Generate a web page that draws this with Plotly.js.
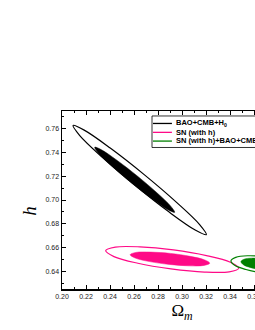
<!DOCTYPE html>
<html><head><meta charset="utf-8">
<script src="https://cdn.plot.ly/plotly-3.0.1.min.js"></script>
<style>
html,body{margin:0;padding:0;width:255px;height:330px;overflow:hidden;background:#fff}
#chart{width:322px;height:330px}
</style>
</head><body><div id="chart"></div>
<script>
// Series names / colours
const seriesNames = ['BAO+CMB+H<sub>0</sub>', 'SN (with h)', 'SN (with h)+BAO+CMB+H<sub>0</sub>'];
const seriesColors = ['#000000', '#ff0a87', '#008000'];

// Axis ticks (labels beyond 0.36 fall outside the visible window)
const xTickVals = [0.20, 0.22, 0.24, 0.26, 0.28, 0.30, 0.32, 0.34, 0.36];
const yTickVals = [0.64, 0.66, 0.68, 0.70, 0.72, 0.74, 0.76];

// BAO+CMB+H0 contours (outer = 2 sigma line, inner = 1 sigma filled)
const baoOuterX = [0.2611, 0.2338, 0.2148, 0.2092, 0.2185, 0.2402, 0.2685, 0.2957, 0.3147, 0.3203, 0.3110, 0.2893];
const baoOuterY = [0.7122, 0.7358, 0.7543, 0.7628, 0.7589, 0.7438, 0.7214, 0.6978, 0.6793, 0.6708, 0.6747, 0.6898];
const baoInnerX = [0.2582, 0.2419, 0.2305, 0.2273, 0.2329, 0.2460, 0.2630, 0.2793, 0.2906, 0.2939, 0.2883, 0.2752];
const baoInnerY = [0.7141, 0.7282, 0.7393, 0.7445, 0.7423, 0.7333, 0.7200, 0.7059, 0.6948, 0.6896, 0.6918, 0.7008];

// SN (with h) contours
const snOuterX = [0.2908, 0.2632, 0.2433, 0.2364, 0.2444, 0.2650, 0.2929, 0.3204, 0.3403, 0.3473, 0.3393, 0.3187];
const snOuterY = [0.6420, 0.6467, 0.6523, 0.6573, 0.6603, 0.6605, 0.6579, 0.6531, 0.6475, 0.6425, 0.6395, 0.6393];
const snInnerX = [0.2895, 0.2730, 0.2610, 0.2568, 0.2615, 0.2738, 0.2904, 0.3069, 0.3189, 0.3231, 0.3184, 0.3061];
const snInnerY = [0.6457, 0.6481, 0.6511, 0.6539, 0.6558, 0.6561, 0.6550, 0.6525, 0.6495, 0.6468, 0.6449, 0.6445];

// SN (with h)+BAO+CMB+H0 contours
const combOuterX = [0.3664, 0.3533, 0.3439, 0.3408, 0.3448, 0.3547, 0.3681, 0.3812, 0.3906, 0.3937, 0.3898, 0.3798];
const combOuterY = [0.6388, 0.6414, 0.6450, 0.6488, 0.6517, 0.6530, 0.6522, 0.6496, 0.6459, 0.6421, 0.6392, 0.6380];
const combInnerX = [0.3659, 0.3572, 0.3511, 0.3491, 0.3517, 0.3582, 0.3670, 0.3756, 0.3817, 0.3838, 0.3812, 0.3746];
const combInnerY = [0.6413, 0.6430, 0.6455, 0.6481, 0.6501, 0.6510, 0.6505, 0.6488, 0.6463, 0.6437, 0.6417, 0.6408];

const groups = [
  [baoOuterX, baoOuterY, baoInnerX, baoInnerY],
  [snOuterX, snOuterY, snInnerX, snInnerY],
  [combOuterX, combOuterY, combInnerX, combInnerY]
];
const close = a => a.concat([a[0]]);

const traces = [];
groups.forEach((g, i) => {
  traces.push({
    x: close(g[0]), y: close(g[1]), mode: 'lines', name: seriesNames[i],
    line: {color: seriesColors[i], width: 1.2, shape: 'spline', smoothing: 1},
    hoverinfo: 'skip', showlegend: false
  });
  traces.push({
    x: close(g[2]), y: close(g[3]), mode: 'lines', name: seriesNames[i] + ' 1σ',
    fill: 'toself', fillcolor: seriesColors[i],
    line: {color: seriesColors[i], width: 0.5, shape: 'spline', smoothing: 1},
    hoverinfo: 'skip', showlegend: false
  });
});

// Legend drawn compactly (box, line samples, labels)
const legX0 = 0.375, legX1 = 0.995, legY0 = 0.795, legY1 = 0.972;
const legRows = [0.930, 0.880, 0.831];
const shapes = [{type: 'rect', xref: 'paper', yref: 'paper', x0: legX0, x1: legX1, y0: legY0, y1: legY1,
  line: {color: '#000', width: 0.8}, fillcolor: 'rgba(255,255,255,1)', layer: 'above'}];
const annotations = [];
seriesNames.forEach((n, i) => {
  shapes.push({type: 'line', xref: 'paper', yref: 'paper', x0: 0.379, x1: 0.458, y0: legRows[i], y1: legRows[i],
    line: {color: seriesColors[i], width: 1.3}, layer: 'above'});
  annotations.push({xref: 'paper', yref: 'paper', x: 0.468, y: legRows[i], xanchor: 'left', yanchor: 'middle',
    text: '<b>' + n + '</b>', showarrow: false,
    font: {family: 'Liberation Sans, Arial, sans-serif', size: 7.5, color: '#000'}});
});
annotations.push({xref: 'paper', yref: 'paper', x: -0.133, y: 0.44, xanchor: 'center', yanchor: 'middle',
  text: '<i>h</i>', textangle: -90, showarrow: false,
  font: {family: 'Liberation Serif, Times New Roman, serif', size: 19, color: '#000'}});

const axisCommon = {
  ticks: 'inside', ticklen: 4, tickwidth: 1, tickcolor: '#000',
  showline: true, linecolor: '#000', linewidth: 1.5, mirror: 'ticks',
  showgrid: false, zeroline: false, tickformat: '.2f',
  tickfont: {family: 'Liberation Sans, Arial, sans-serif', size: 7, color: '#222'},
  minor: {ticks: 'inside', ticklen: 2, tickwidth: 1, tickcolor: '#000', dtick: 0.01, showgrid: false}
};

const layout = {
  width: 322, height: 330,
  margin: {l: 62, r: 20, t: 111, b: 41},
  paper_bgcolor: '#fff', plot_bgcolor: '#fff',
  showlegend: false,
  xaxis: Object.assign({}, axisCommon, {
    range: [0.20, 0.40], tickvals: xTickVals,
    title: {text: 'Ω<sub><i>m</i></sub>', standoff: 5,
      font: {family: 'Liberation Serif, Times New Roman, serif', size: 17, color: '#000'}}
  }),
  yaxis: Object.assign({}, axisCommon, {
    range: [0.625, 0.775], tickvals: yTickVals
  }),
  shapes: shapes,
  annotations: annotations
};

Plotly.newPlot('chart', traces, layout, {staticPlot: true, displayModeBar: false});
</script>
</body></html>
